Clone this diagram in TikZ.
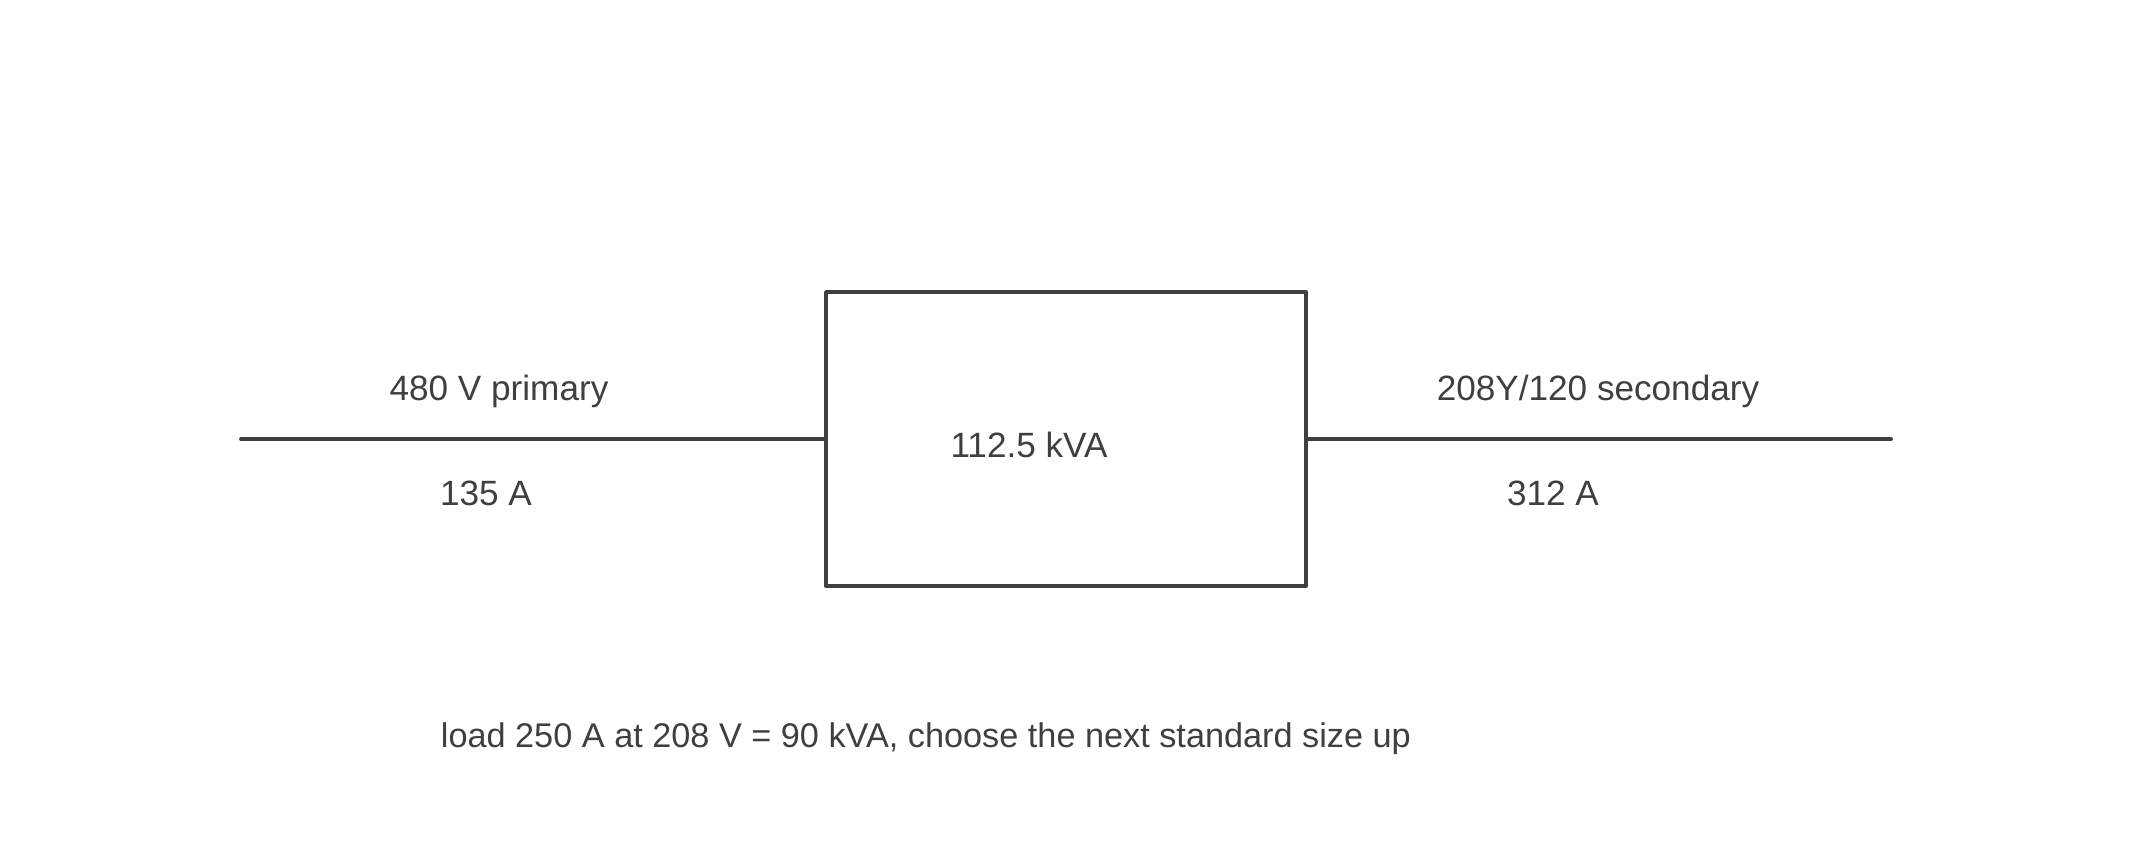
\documentclass[tikz,border=0pt]{standalone}
\usepackage{fontspec}
\setmainfont{Liberation Sans}
\usepackage{tikz}
\usetikzlibrary{positioning}

\definecolor{ink}{HTML}{3F3F42}

\begin{document}
\begin{tikzpicture}[line width=1.1pt, line cap=round, line join=round,
	every node/.style={text=ink, font=\fontsize{10}{12}\selectfont},
	wire/.style={draw=ink}]
	\useasboundingbox (0,0) rectangle (21.33,8.53);
	\path (10.66,4.14) node (xfmr) [draw=ink, rectangle, minimum width=4.80cm, minimum height=2.94cm, inner sep=0pt] {}
		  (2.41,4.14) coordinate (pin)
		  (18.91,4.14) coordinate (sout);
	\draw[wire] (pin) -- (xfmr.west);
	\draw[wire] (xfmr.east) -- (sout);
	\path (4.99,4.62) node (pvolt) {480 V primary}
		  (4.86,3.60) node (pamp) {135 A}
		  (10.29,4.08) node (rating) {112.5 kVA}
		  (15.98,4.62) node (svolt) {208Y/120 secondary}
		  (15.53,3.60) node (samp) {312 A}
		  (4.39,1.14) node (note) [anchor=west, inner sep=0pt, font=\fontsize{9.75}{12}\selectfont] {load 250 A at 208 V = 90 kVA, choose the next standard size up};
\end{tikzpicture}
\end{document}
